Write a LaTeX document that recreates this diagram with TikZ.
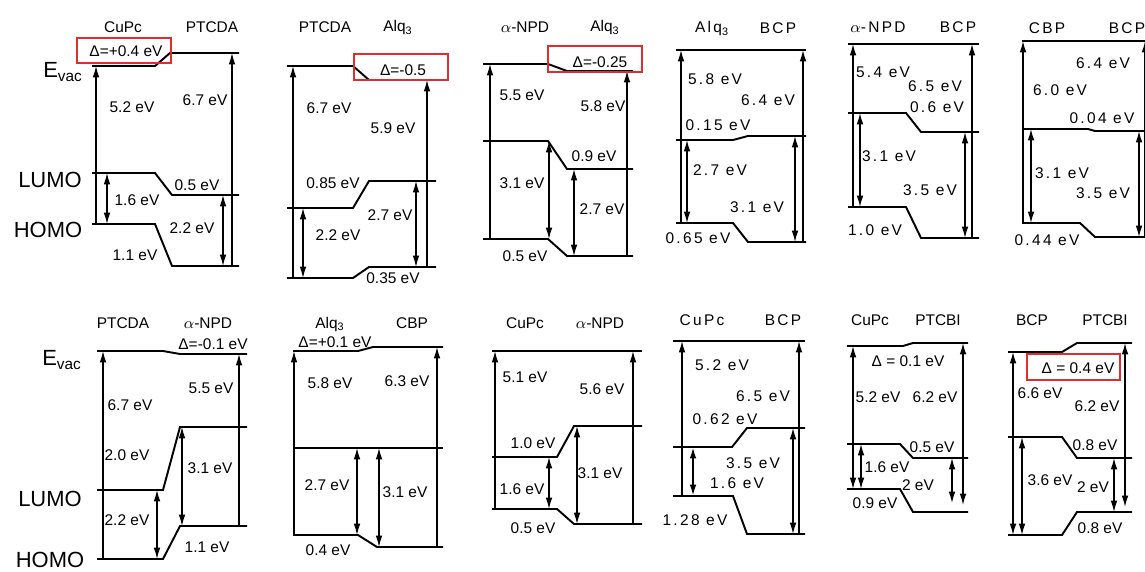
\documentclass[tikz,border=0pt]{standalone}
\usepackage{fontspec}
\setmainfont{Liberation Sans}
\newfontfamily\spaced[LetterSpace=15]{Liberation Sans}
\usetikzlibrary{arrows.meta}
\definecolor{boxred}{RGB}{225,45,45}

\begin{document}
\begin{tikzpicture}[x=0.02cm, y=-0.02cm,
	level/.style={line width=1.1pt},
	gap/.style={line width=0.7pt, -{Latex[length=6.5pt,width=3.8pt]}},
	both/.style={line width=0.7pt, {Latex[length=6.5pt,width=3.8pt]}-{Latex[length=6.5pt,width=3.8pt]}},
	lab/.style={inner sep=0pt, font=\fontsize{8.8}{10}\selectfont},
	wide/.style={inner sep=0pt, font=\fontsize{8.8}{10}\selectfont\spaced},
	side/.style={inner sep=0pt, font=\fontsize{12.5}{14}\selectfont},
	delta/.style={draw=boxred, line width=0.6pt}]
	\useasboundingbox (0,0) rectangle (1145,571);
	% Side labels:
	\node[side] (EV1) at (63,72) {E\textsubscript{vac}};
	\node[side] (LU1) at (50,180) {LUMO};
	\node[side] (HO1) at (48,230) {HOMO};
	\node[side] (EV2) at (62,360) {E\textsubscript{vac}};
	\node[side] (LU2) at (50,499) {LUMO};
	\node[side] (HO2) at (50,560) {HOMO};
	% CuPc / PTCDA
	\draw[level] (92,66) -- (155,66) -- (170,53) -- (239,53);
	\draw[level] (92,173) -- (155,173) -- (172,195) -- (239,195);
	\draw[level] (92,224) -- (155,224) -- (172,266) -- (239,266);
	\draw[gap] (96,224) -- (96,66);
	\draw[gap] (232,266) -- (232,53);
	\draw[both] (107,173) -- (107,224);
	\draw[both] (223,195) -- (223,266);
	\draw[delta] (77,38) rectangle (171,63);
	\node[lab] (A1) at (123,27) {CuPc};
	\node[lab] (A2) at (212,27) {PTCDA};
	\node[lab] (A3) at (126,51) {Δ=+0.4 eV};
	\node[lab] (A4) at (132,107) {5.2 eV};
	\node[lab] (A5) at (205,100) {6.7 eV};
	\node[lab] (A6) at (197,185) {0.5 eV};
	\node[lab] (A7) at (137,200) {1.6 eV};
	\node[lab] (A8) at (192,228) {2.2 eV};
	\node[lab] (A9) at (135,255) {1.1 eV};
	% PTCDA / Alq3
	\draw[level] (287,66) -- (353,66) -- (369,80) -- (436,80);
	\draw[level] (287,208) -- (353,208) -- (369,181) -- (436,181);
	\draw[level] (287,278) -- (353,278) -- (369,267) -- (436,267);
	\draw[gap] (293,278) -- (293,66);
	\draw[gap] (427,267) -- (427,80);
	\draw[both] (303,208) -- (303,278);
	\draw[both] (416,181) -- (416,267);
	\draw[delta] (354,54) rectangle (448,80);
	\node[lab] (B1) at (325,27) {PTCDA};
	\node[lab] (B2) at (398,28) {Alq\textsubscript{3}};
	\node[lab] (B3) at (403,70) {Δ=-0.5};
	\node[lab] (B4) at (329,108) {6.7 eV};
	\node[lab] (B5) at (393,128) {5.9 eV};
	\node[lab] (B6) at (333,183) {0.85 eV};
	\node[lab] (B7) at (390,215) {2.7 eV};
	\node[lab] (B8) at (338,235) {2.2 eV};
	\node[lab] (B9) at (393,278) {0.35 eV};
	% alpha-NPD / Alq3
	\draw[level] (483,64) -- (548,64) -- (567,71) -- (633,71);
	\draw[level] (483,141) -- (548,141) -- (567,169) -- (633,169);
	\draw[level] (483,239) -- (548,239) -- (567,256) -- (633,256);
	\draw[gap] (490,239) -- (490,64);
	\draw[gap] (627,256) -- (627,71);
	\draw[both] (549,141) -- (549,239);
	\draw[both] (574,169) -- (574,256);
	\draw[delta] (548,46) rectangle (642,72);
	\node[lab] (C1) at (525,27) {$\alpha$-NPD};
	\node[lab] (C2) at (605,28) {Alq\textsubscript{3}};
	\node[lab] (C3) at (600,62) {Δ=-0.25};
	\node[lab] (C4) at (522,95) {5.5 eV};
	\node[lab] (C5) at (603,106) {5.8 eV};
	\node[lab] (C6) at (594,156) {0.9 eV};
	\node[lab] (C7) at (522,183) {3.1 eV};
	\node[lab] (C8) at (602,209) {2.7 eV};
	\node[lab] (C9) at (525,256) {0.5 eV};
	% Alq3 / BCP
	\draw[level] (676,50) -- (806,50);
	\draw[level] (676,140) -- (733,140) -- (748,136) -- (806,136);
	\draw[level] (676,223) -- (733,223) -- (748,242) -- (806,242);
	\draw[gap] (681,223) -- (681,50);
	\draw[gap] (803,242) -- (803,50);
	\draw[both] (687,140) -- (687,223);
	\draw[both] (795,136) -- (795,242);
	\node[wide] (D1) at (712,29) {Alq\textsubscript{3}};
	\node[wide] (D2) at (778,28) {BCP};
	\node[wide] (D3) at (715,79) {5.8 eV};
	\node[wide] (D4) at (768,100) {6.4 eV};
	\node[wide] (D5) at (718,125) {0.15 eV};
	\node[wide] (D6) at (720,170) {2.7 eV};
	\node[wide] (D7) at (757,207) {3.1 eV};
	\node[wide] (D8) at (698,238) {0.65 eV};
	% alpha-NPD / BCP
	\draw[level] (848,44) -- (979,44);
	\draw[level] (848,113) -- (906,113) -- (921,132) -- (979,132);
	\draw[level] (848,207) -- (906,207) -- (921,238) -- (979,238);
	\draw[gap] (853,207) -- (853,44);
	\draw[gap] (972,238) -- (972,44);
	\draw[both] (860,113) -- (860,207);
	\draw[both] (965,132) -- (965,238);
	\node[wide] (E1) at (878,27) {$\alpha$-NPD};
	\node[wide] (E2) at (958,27) {BCP};
	\node[wide] (E3) at (883,72) {5.4 eV};
	\node[wide] (E4) at (935,86) {6.5 eV};
	\node[wide] (E5) at (937,107) {0.6 eV};
	\node[wide] (E6) at (889,156) {3.1 eV};
	\node[wide] (E7) at (930,190) {3.5 eV};
	\node[wide] (E8) at (875,230) {1.0 eV};
	% CBP / BCP
	\draw[level] (1022,41) -- (1150,41);
	\draw[level] (1022,129) -- (1088,129) -- (1095,131) -- (1150,131);
	\draw[level] (1022,223) -- (1080,223) -- (1095,237) -- (1150,237);
	\draw[gap] (1023,223) -- (1023,41);
	\draw[gap] (1145,237) -- (1145,41);
	\draw[both] (1031,129) -- (1031,223);
	\draw[both] (1139,131) -- (1139,237);
	\node[wide] (F1) at (1047,28) {CBP};
	\node[wide] (F2) at (1127,28) {BCP};
	\node[wide] (F3) at (1103,63) {6.4 eV};
	\node[wide] (F4) at (1060,90) {6.0 eV};
	\node[wide] (F5) at (1102,118) {0.04 eV};
	\node[wide] (F6) at (1062,173) {3.1 eV};
	\node[wide] (F7) at (1103,193) {3.5 eV};
	\node[wide] (F8) at (1047,240) {0.44 eV};
	% PTCDA / alpha-NPD
	\draw[level] (97,351) -- (163,351) -- (180,354) -- (247,354);
	\draw[level] (97,490) -- (163,490) -- (180,427) -- (247,427);
	\draw[level] (97,559) -- (163,559) -- (180,526) -- (247,526);
	\draw[gap] (103,559) -- (103,351);
	\draw[gap] (239,526) -- (239,354);
	\draw[both] (157,490) -- (157,559);
	\draw[both] (182,427) -- (182,526);
	\node[lab] (G1) at (123,323) {PTCDA};
	\node[lab] (G2) at (208,323) {$\alpha$-NPD};
	\node[lab] (G3) at (213,344) {Δ=-0.1 eV};
	\node[lab] (G4) at (130,405) {6.7 eV};
	\node[lab] (G5) at (211,388) {5.5 eV};
	\node[lab] (G6) at (127,455) {2.0 eV};
	\node[lab] (G7) at (210,468) {3.1 eV};
	\node[lab] (G8) at (127,520) {2.2 eV};
	\node[lab] (G9) at (207,547) {1.1 eV};
	% Alq3 / CBP
	\draw[level] (293,351) -- (358,351) -- (373,347) -- (443,347);
	\draw[level] (293,448) -- (443,448);
	\draw[level] (293,535) -- (358,535) -- (377,547) -- (443,547);
	\draw[gap] (294,535) -- (294,351);
	\draw[gap] (437,547) -- (437,347);
	\draw[both] (357,448) -- (357,535);
	\draw[both] (379,448) -- (379,547);
	\node[lab] (H1) at (330,324) {Alq\textsubscript{3}};
	\node[lab] (H2) at (412,323) {CBP};
	\node[lab] (H3) at (335,342) {Δ=+0.1 eV};
	\node[lab] (H4) at (330,383) {5.8 eV};
	\node[lab] (H5) at (407,381) {6.3 eV};
	\node[lab] (H6) at (327,485) {2.7 eV};
	\node[lab] (H7) at (405,492) {3.1 eV};
	\node[lab] (H8) at (328,550) {0.4 eV};
	% CuPc / alpha-NPD
	\draw[level] (492,351) -- (642,351);
	\draw[level] (492,457) -- (557,457) -- (574,426) -- (642,426);
	\draw[level] (492,509) -- (557,509) -- (574,524) -- (642,524);
	\draw[gap] (495,509) -- (495,351);
	\draw[gap] (633,524) -- (633,351);
	\draw[both] (549,457) -- (549,509);
	\draw[both] (577,426) -- (577,524);
	\node[lab] (I1) at (525,323) {CuPc};
	\node[lab] (I2) at (600,323) {$\alpha$-NPD};
	\node[lab] (I3) at (525,377) {5.1 eV};
	\node[lab] (I4) at (602,389) {5.6 eV};
	\node[lab] (I5) at (533,443) {1.0 eV};
	\node[lab] (I6) at (522,489) {1.6 eV};
	\node[lab] (I7) at (600,473) {3.1 eV};
	\node[lab] (I8) at (533,528) {0.5 eV};
	% CuPc / BCP
	\draw[level] (673,341) -- (805,341);
	\draw[level] (673,447) -- (732,447) -- (747,428) -- (805,428);
	\draw[level] (673,496) -- (733,496) -- (747,534) -- (805,534);
	\draw[gap] (682,496) -- (682,341);
	\draw[gap] (799,534) -- (799,341);
	\draw[both, line width=1.1pt] (693,447) -- (693,496);
	\draw[both] (793,428) -- (793,534);
	\node[wide] (J1) at (702,320) {CuPc};
	\node[wide] (J2) at (783,320) {BCP};
	\node[wide] (J3) at (722,365) {5.2 eV};
	\node[wide] (J4) at (763,396) {6.5 eV};
	\node[wide] (J5) at (725,419) {0.62 eV};
	\node[wide] (J6) at (753,463) {3.5 eV};
	\node[wide] (J7) at (737,483) {1.6 eV};
	\node[wide] (J8) at (695,520) {1.28 eV};
	% CuPc / PTCBI
	\draw[level] (847,346) -- (903,346) -- (913,343) -- (968,343);
	\draw[level] (847,444) -- (900,444) -- (913,458) -- (968,458);
	\draw[level] (847,489) -- (900,489) -- (913,512) -- (968,512);
	\draw[both] (853,346) -- (853,489);
	\draw[both] (861,444) -- (861,489);
	\draw[both] (952,458) -- (952,503);
	\draw[both] (963,343) -- (963,505);
	\node[lab] (K1) at (870,320) {CuPc};
	\node[lab] (K2) at (938,320) {PTCBI};
	\node[lab] (K3) at (908,361) {Δ = 0.1 eV};
	\node[lab] (K4) at (878,397) {5.2 eV};
	\node[lab] (K5) at (935,397) {6.2 eV};
	\node[lab] (K6) at (932,447) {0.5 eV};
	\node[lab] (K7) at (887,467) {1.6 eV};
	\node[lab] (K8) at (918,485) {2 eV};
	\node[lab] (K9) at (875,503) {0.9 eV};
	% BCP / PTCBI
	\draw[level] (1008,352) -- (1062,352) -- (1077,343) -- (1132,343);
	\draw[level] (1008,437) -- (1062,437) -- (1077,458) -- (1132,458);
	\draw[level] (1008,535) -- (1062,535) -- (1077,512) -- (1132,512);
	\draw[both] (1013,352) -- (1013,535);
	\draw[both] (1022,437) -- (1022,535);
	\draw[both] (1114,458) -- (1114,512);
	\draw[both] (1125,343) -- (1125,507);
	\draw[delta] (1027,354) rectangle (1120,380);
	\node[lab] (L1) at (1032,320) {BCP};
	\node[lab] (L2) at (1105,320) {PTCBI};
	\node[lab] (L3) at (1078,368) {Δ = 0.4 eV};
	\node[lab] (L4) at (1040,393) {6.6 eV};
	\node[lab] (L5) at (1097,406) {6.2 eV};
	\node[lab] (L6) at (1095,445) {0.8 eV};
	\node[lab] (L7) at (1050,480) {3.6 eV};
	\node[lab] (L8) at (1093,487) {2 eV};
	\node[lab] (L9) at (1100,528) {0.8 eV};
\end{tikzpicture}
\end{document}
